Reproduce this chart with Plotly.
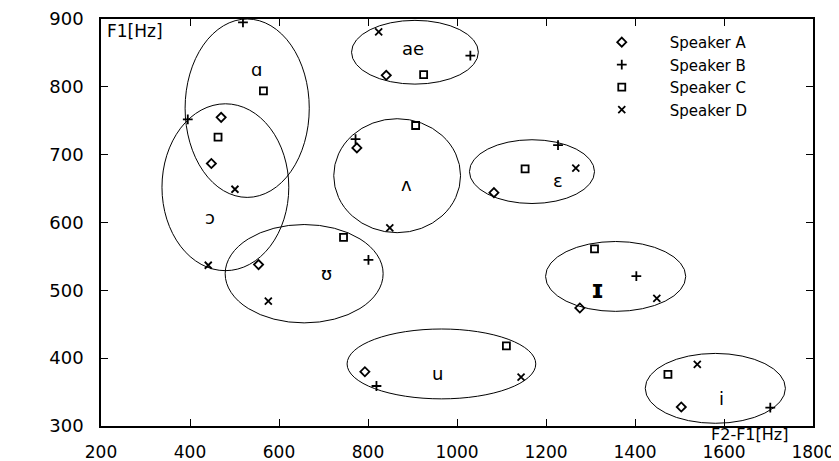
import plotly.graph_objects as go

# ---- data (F2-F1 [Hz], F1 [Hz]) ----
speakers = ["Speaker A", "Speaker B", "Speaker C", "Speaker D"]

a_x = [470, 448, 841, 775, 1083, 554, 793, 1276, 1504]
a_y = [755, 687, 817, 710, 644, 538, 380, 474, 328]

b_x = [519, 395, 1030, 772, 1227, 801, 819, 1403, 1704]
b_y = [895, 752, 846, 723, 714, 545, 359, 521, 327]

c_x = [565, 463, 925, 907, 1153, 745, 1111, 1309, 1474]
c_y = [794, 726, 818, 743, 679, 578, 418, 561, 376]

d_x = [824, 501, 1267, 849, 441, 576, 1144, 1449, 1540]
d_y = [881, 649, 680, 592, 537, 484, 372, 488, 391]

# vowel regions: label, label position, ellipse extents
vowels = ["ɑ", "ɔ", "ae", "ʌ", "ɛ", "ʊ", "u", "ɪ", "i"]
vowel_x = [549, 445, 900, 886, 1228, 706, 956, 1316, 1595]
vowel_y = [825, 608, 857, 656, 662, 525, 378, 500, 341]
ell_x0 = [389, 337, 763, 723, 1028, 479, 753, 1199, 1423]
ell_x1 = [668, 622, 1048, 1008, 1309, 834, 1177, 1514, 1738]
ell_y0 = [637, 529, 804, 585, 628, 452, 340, 469, 304]
ell_y1 = [900, 775, 898, 753, 722, 597, 443, 572, 407]

x_ticks = [200, 400, 600, 800, 1000, 1200, 1400, 1600, 1800]
y_ticks = [300, 400, 500, 600, 700, 800, 900]

FONT = "DejaVu Sans"

fig = go.Figure()
series = [(a_x, a_y, "diamond-open"), (b_x, b_y, "cross-thin-open"),
          (c_x, c_y, "square-open"), (d_x, d_y, "x-thin-open")]
sizes = [7, 7, 7, 7]
for name, (xs, ys, sym), sz in zip(speakers, series, sizes):
    fig.add_trace(go.Scatter(
        x=xs, y=ys, mode="markers", name=name,
        marker=dict(symbol=sym, size=sz, color="black",
                    line=dict(color="black", width=1.8)),
    ))

for i in range(len(vowels)):
    fig.add_shape(type="circle", xref="x", yref="y",
                  x0=ell_x0[i], x1=ell_x1[i], y0=ell_y0[i], y1=ell_y1[i],
                  line=dict(color="black", width=1))
    bold = vowels[i] == "ɪ"
    fig.add_annotation(x=vowel_x[i], y=vowel_y[i],
                       text=("<b>%s</b>" % vowels[i]) if bold else vowels[i],
                       showarrow=False,
                       font=dict(family=FONT, size=24 if bold else 18, color="black"))

fig.add_annotation(xref="paper", yref="paper", x=0.006, y=1.0, xanchor="left", yanchor="top",
                   text="F1[Hz]", showarrow=False, font=dict(family=FONT, size=17, color="black"))
fig.add_annotation(xref="paper", yref="paper", x=0.854, y=-0.02, xanchor="left", yanchor="middle",
                   text="F2-F1[Hz]", showarrow=False, font=dict(family=FONT, size=16, color="black"))

axis_common = dict(showgrid=False, zeroline=False, showline=True, linecolor="black",
                   linewidth=1.5, mirror="allticks", ticks="inside", ticklen=7,
                   tickcolor="black", tickwidth=1, automargin=False)

fig.update_layout(
    width=831, height=453,
    margin=dict(l=93, r=26, t=11, b=35),
    paper_bgcolor="white", plot_bgcolor="white",
    showlegend=True,
    legend=dict(x=0.664, y=0.983, xanchor="left", yanchor="top",
                bgcolor="rgba(0,0,0,0)", itemwidth=86,
                font=dict(family=FONT, size=15, color="black")),
    xaxis=dict(range=[200, 1800], tickvals=x_ticks, ticklabelstandoff=10,
               tickfont=dict(family=FONT, size=17, color="black"), **axis_common),
    yaxis=dict(range=[300, 900], tickvals=y_ticks, ticklabelstandoff=12,
               tickfont=dict(family=FONT, size=18, color="black"), **axis_common),
)

fig.write_html("out.html")
